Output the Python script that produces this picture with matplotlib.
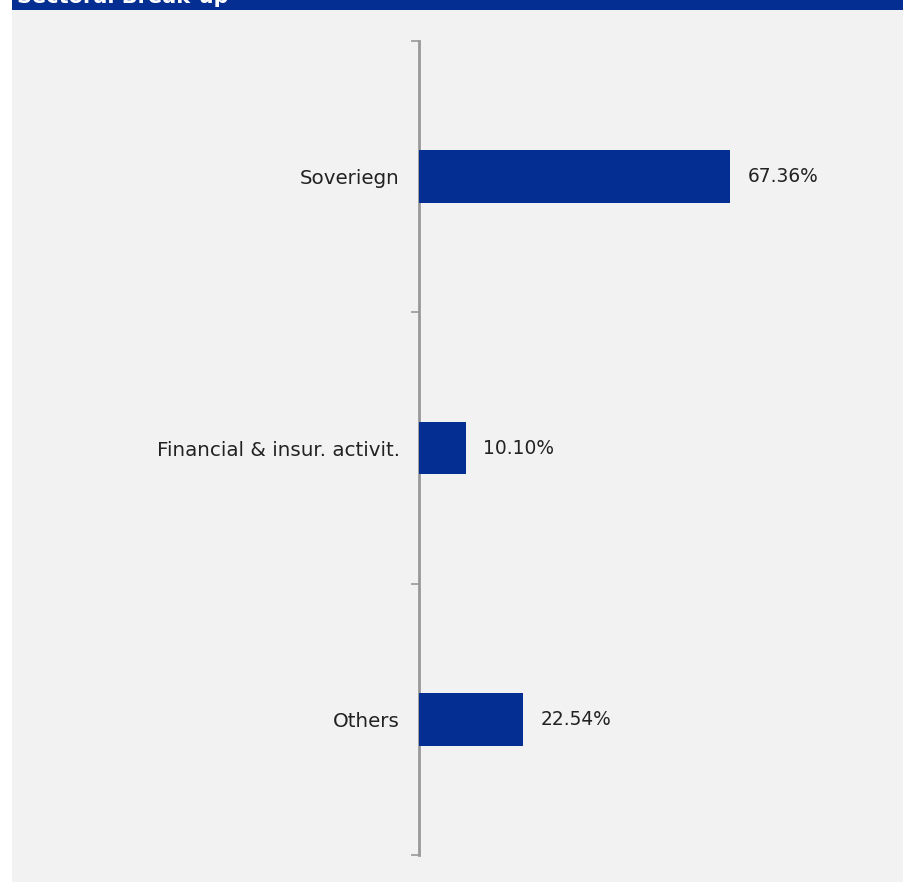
import matplotlib.pyplot as plt
from matplotlib.patches import Rectangle

# Sector shares (%)
sectors = ["Soveriegn", "Financial & insur. activit.", "Others"]
shares = [67.36, 10.10, 22.54]
value_labels = ["67.36%", "10.10%", "22.54%"]

BLUE = "#042e92"
PANEL = "#f2f2f2"

W, H = 914, 882
fig = plt.figure(figsize=(W / 100, H / 100), dpi=100)
fig.patch.set_facecolor("white")

# grey panel and title band
fig.patches.append(Rectangle((12 / W, 0), 891 / W, 1, transform=fig.transFigure,
                             facecolor=PANEL, edgecolor="none", zorder=-2))
fig.patches.append(Rectangle((12 / W, 1 - 10 / H), 891 / W, 10 / H, transform=fig.transFigure,
                             facecolor=BLUE, edgecolor="none", zorder=-1))
fig.text(17 / W, 1 - 3 / H, "Sectoral Break-up", color="white", fontsize=15,
         fontweight="bold", va="baseline", ha="left", zorder=2)

ax = fig.add_axes([419 / W, 1 - 855 / H, 462 / W, 814 / H])
ax.set_zorder(5)
ax.set_facecolor("none")

pos = list(range(len(sectors)))
ax.barh(pos, shares, height=0.195, color=BLUE, zorder=3)
for p, v, lab in zip(pos, shares, value_labels):
    ax.text(v + 3.7, p, lab, va="center", ha="left", fontsize=13.4, color="#222222")

ax.set_xlim(0, 100)
ax.set_ylim(len(sectors) - 0.5, -0.5)

# boundary ticks on the axis, category names between them
ax.set_yticks([-0.5, 0.5, 1.5, 2.5])
ax.set_yticklabels([])
ax.set_yticks(pos, minor=True)
ax.set_yticklabels(sectors, minor=True, fontsize=14.3, color="#222222")
ax.tick_params(axis="y", which="major", length=6, width=1.2, color="#999999")
ax.tick_params(axis="y", which="minor", length=0, pad=14)
ax.set_xticks([])

for side in ["top", "right", "bottom"]:
    ax.spines[side].set_visible(False)
ax.spines["left"].set_color("#999999")
ax.spines["left"].set_linewidth(2)

fig.savefig("out.png", dpi=100)
